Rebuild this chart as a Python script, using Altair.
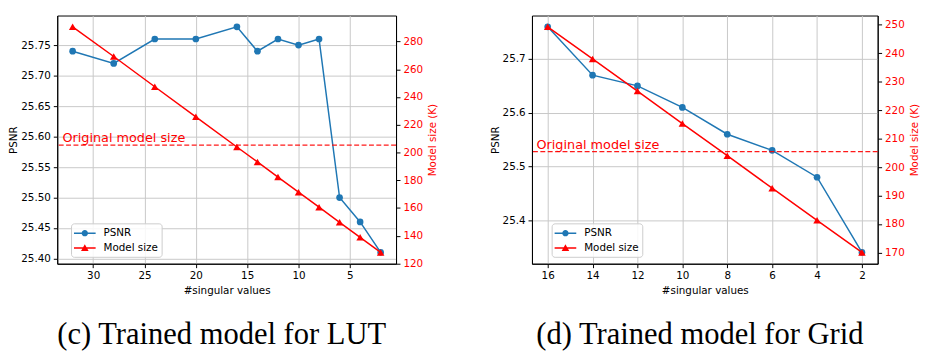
import altair as alt
import pandas as pd

# ---------------- data ----------------
sv_lut = [32, 28, 24, 20, 16, 14, 12, 10, 8, 6, 4, 2]
psnr_lut = [25.74, 25.72, 25.76, 25.76, 25.78, 25.74, 25.76, 25.75, 25.76, 25.50, 25.46, 25.41]
size_lut = [290.6, 269.2, 247.4, 225.7, 204.0, 193.2, 182.3, 171.4, 160.6, 149.7, 138.9, 128.0]

sv_grid = [16, 14, 12, 10, 8, 6, 4, 2]
psnr_grid = [25.76, 25.67, 25.65, 25.61, 25.56, 25.53, 25.48, 25.34]
size_grid = [249.3, 238.0, 226.7, 215.3, 204.0, 192.6, 181.3, 170.0]

original_size = 205.4
original_label = "Original model size"
series_names = ["PSNR", "Model size"]

lut_xticks = [30, 25, 20, 15, 10, 5]
lut_psnr_ticks = [25.40, 25.45, 25.50, 25.55, 25.60, 25.65, 25.70, 25.75]
lut_size_ticks = [120, 140, 160, 180, 200, 220, 240, 260, 280]

grid_xticks = [16, 14, 12, 10, 8, 6, 4, 2]
grid_psnr_ticks = [25.4, 25.5, 25.6, 25.7]
grid_size_ticks = [170, 180, 190, 200, 210, 220, 230, 240, 250]

captions = ["(c) Trained model for LUT", "(d) Trained model for Grid"]

BLUE = "#1f77b4"
RED = "#ff0000"
FONT = "DejaVu Sans"

# legend symbols: line + marker (custom SVG paths)
CIRCLE_SYM = ("M-1,-0.107H2.14V0.107H-1Z "
              "M1.03,0A0.46,0.46 0 1,1 0.11,0A0.46,0.46 0 1,1 1.03,0Z")
TRI_SYM = ("M-1,-0.107H2.14V0.107H-1Z "
           "M0.57,-0.55L1.12,0.45L0.02,0.45Z")


def lim(v):
    lo, hi = min(v), max(v)
    m = (hi - lo) * 0.05
    return [lo - m, hi + m]


def panel(sv, psnr, size, xticks, pticks, pfmt, sticks, width, caption,
          cap_dx, leg_x, text_x):
    df = pd.DataFrame({"sv": sv, "psnr": psnr, "size": size})
    ref_df = pd.DataFrame({"size": [original_size], "sv": [text_x],
                           "label": [original_label]})
    base = alt.Chart(df)
    ref = alt.Chart(ref_df)

    x_axis = alt.Axis(values=xticks, format="d", title="#singular values",
                      grid=True, labelFlush=False, labelOverlap=False)
    x = alt.X("sv:Q",
              scale=alt.Scale(domain=lim(sv), reverse=True, nice=False, zero=False),
              axis=x_axis)
    p_axis = alt.Axis(values=pticks, format=pfmt, title="PSNR", grid=True,
                      orient="left", labelOverlap=False, titlePadding=2)
    y_psnr = alt.Y("psnr:Q",
                   scale=alt.Scale(domain=lim(psnr), nice=False, zero=False),
                   axis=p_axis)
    s_axis = alt.Axis(values=sticks, format="d", title="Model size (K)",
                      grid=False, orient="right", labelOverlap=False,
                      labelColor=RED, titleColor=RED, titlePadding=5,
                      titleAngle=270, titleBaseline="top")
    y_size = alt.Y("size:Q",
                   scale=alt.Scale(domain=lim(size), nice=False, zero=False),
                   axis=s_axis)

    psnr_line = base.mark_line(
        color=BLUE, strokeWidth=1.5,
        point=alt.OverlayMarkDef(filled=True, color=BLUE, size=46,
                                 shape="circle", opacity=1),
    ).encode(x=x, y=y_psnr)

    legend = alt.Legend(
        title=None, orient="none", legendX=leg_x, legendY=211,
        padding=3, fillColor="rgba(255,255,255,0.85)", strokeColor="#cccccc",
        cornerRadius=3, symbolSize=196, labelOffset=16, rowPadding=2,
        labelFont=FONT, labelFontSize=10.5, labelColor="black",
        symbolStrokeWidth=0, symbolOpacity=1, direction="vertical")

    leg_layer = base.mark_point(filled=True, opacity=1).encode(
        x=x, y=y_psnr,
        color=alt.Color("series:N",
                        scale=alt.Scale(domain=series_names, range=[BLUE, RED]),
                        legend=legend),
        shape=alt.Shape("series:N",
                        scale=alt.Scale(domain=series_names,
                                        range=[CIRCLE_SYM, TRI_SYM]),
                        legend=legend),
    ).transform_calculate(series="'PSNR'").transform_filter("false")

    size_line = base.mark_line(
        color=RED, strokeWidth=1.5,
        point=alt.OverlayMarkDef(filled=True, color=RED, size=58,
                                 shape="triangle-up", opacity=1),
    ).encode(x=x, y=y_size)

    rule = ref.mark_rule(color=RED, strokeWidth=1.3, strokeDash=[5, 2.5],
                         opacity=0.9).encode(y=y_size)

    text = ref.mark_text(align="left", baseline="alphabetic", dy=-3,
                         color=RED, font=FONT, fontSize=13).encode(
        x=x, y=y_size, text="label:N")

    left = alt.layer(psnr_line, leg_layer)
    right = alt.layer(rule, size_line, text)

    return alt.layer(left, right).resolve_scale(y="independent").properties(
        width=width, height=252,
        title=alt.TitleParams(caption, orient="bottom", font="Liberation Serif",
                              fontSize=31, fontWeight="normal", color="black",
                              anchor="middle", dx=cap_dx, offset=24))


p1 = panel(sv_lut, psnr_lut, size_lut, lut_xticks, lut_psnr_ticks, ".2f",
           lut_size_ticks, 344, captions[0], -5, 14, 33.0)
p2 = panel(sv_grid, psnr_grid, size_grid, grid_xticks, grid_psnr_ticks, ".1f",
           grid_size_ticks, 351, captions[1], -5, 20, 16.5)

chart = alt.hconcat(p1, p2, spacing=51).resolve_scale(
    color="independent", shape="independent"
).resolve_legend(color="independent", shape="independent").properties(
    padding={"top": 4, "left": 0, "right": 0, "bottom": 0}
).configure_view(stroke="black", strokeWidth=1).configure_axis(
    labelFont=FONT, titleFont=FONT, labelFontSize=10.5, titleFontSize=10.5,
    titleFontWeight="normal", labelColor="black", titleColor="black",
    domainColor="black", tickColor="black", tickSize=4, labelPadding=3,
    titlePadding=5, gridColor="#c8c8c8", gridWidth=1, domainWidth=1,
)

chart.save("out.html", embed_options={"renderer": "svg", "actions": False})
